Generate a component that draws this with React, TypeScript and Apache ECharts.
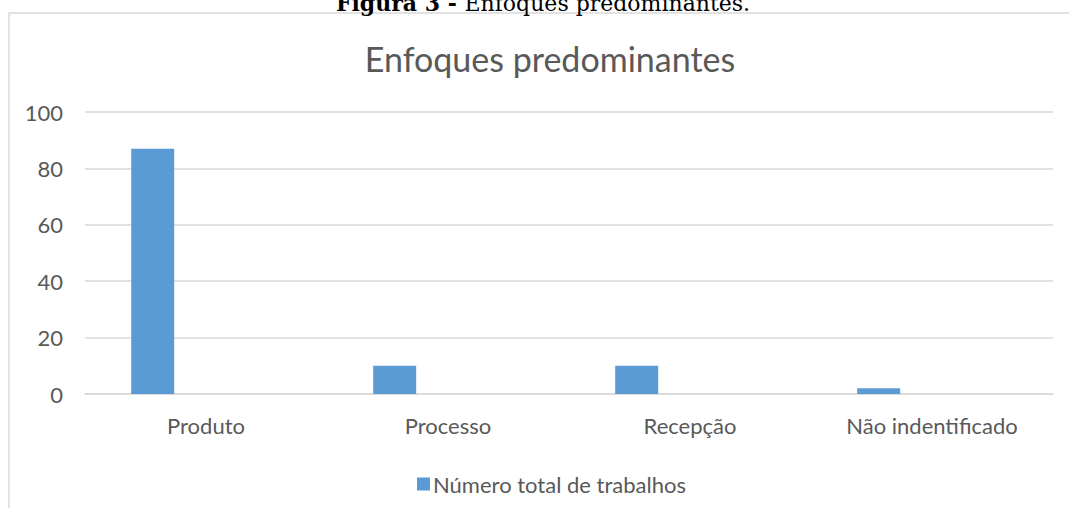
import React, { useEffect, useRef } from "react";
import * as echarts from "echarts";

const categories = ["Produto", "Processo", "Recepção", "Não indentificado"];
const seriesName = "Número total de trabalhos";
const values = [87, 10, 10, 2];
const yMin = 0;
const yMax = 100;
const yInterval = 20;
const chartTitle = "Enfoques predominantes";
const captionBold = "Figura 3 - ";
const captionRest = "Enfoques predominantes.";

const FONT = "Lato";
const TEXT = "#595959";
const GRID = "#d9d9d9";
const BAR = "#5b9bd5";

export default function App() {
  const ref = useRef<HTMLDivElement>(null);
  useEffect(() => {
    if (!ref.current) return;
    const chart = echarts.init(ref.current, undefined, { renderer: "svg" });
    const empty = categories.map(() => null);
    chart.setOption({
      animation: false,
      backgroundColor: "#ffffff",
      title: {
        text: chartTitle,
        left: 545,
        textAlign: "center",
        top: 36,
        textStyle: { fontFamily: FONT, fontSize: 34, fontWeight: "normal", color: TEXT },
      },
      legend: {
        data: [seriesName],
        left: 412,
        top: 468,
        itemWidth: 13,
        itemHeight: 13,
        icon: "rect",
        itemGap: 10,
        textStyle: { fontFamily: FONT, fontSize: 22, color: TEXT, padding: [0, 0, 0, -2] },
      },
      grid: { left: 85, right: 16, top: 112, bottom: 114, containLabel: false },
      xAxis: {
        type: "category",
        data: categories,
        axisLine: { lineStyle: { color: GRID, width: 1.5 } },
        axisTick: { show: false },
        axisLabel: { fontFamily: FONT, fontSize: 22, color: TEXT, margin: 20 },
      },
      yAxis: {
        type: "value",
        min: yMin,
        max: yMax,
        interval: yInterval,
        axisLine: { show: false },
        axisTick: { show: false },
        splitLine: { lineStyle: { color: GRID, width: 1.5 } },
        axisLabel: { fontFamily: FONT, fontSize: 22, color: TEXT, margin: 22 },
      },
      series: [
        {
          name: seriesName,
          type: "bar",
          data: values,
          barWidth: 43,
          barGap: "24%",
          itemStyle: { color: BAR },
        },
        { name: "s2", type: "bar", data: empty, barWidth: 43, barGap: "24%" },
        { name: "s3", type: "bar", data: empty, barWidth: 43, barGap: "24%" },
      ],
      graphic: [
        {
          type: "rect",
          shape: { x: 9, y: 13, width: 1200, height: 600 },
          style: { fill: "none", stroke: GRID, lineWidth: 1.5 },
          silent: true,
        },
        {
          type: "text",
          x: 543,
          y: 14,
          style: {
            text: "{b|" + captionBold + "}{n|" + captionRest + "}",
            align: "center",
            verticalAlign: "bottom",
            rich: {
              b: { fontFamily: "DejaVu Serif", fontSize: 22, fontWeight: "bold", fill: "#000" },
              n: { fontFamily: "DejaVu Serif", fontSize: 22, fill: "#000" },
            },
          },
        },
      ],
    });
    return () => chart.dispose();
  }, []);
  return <div ref={ref} style={{ position: "fixed", left: 0, top: 0, width: 1069, height: 508 }} />;
}
